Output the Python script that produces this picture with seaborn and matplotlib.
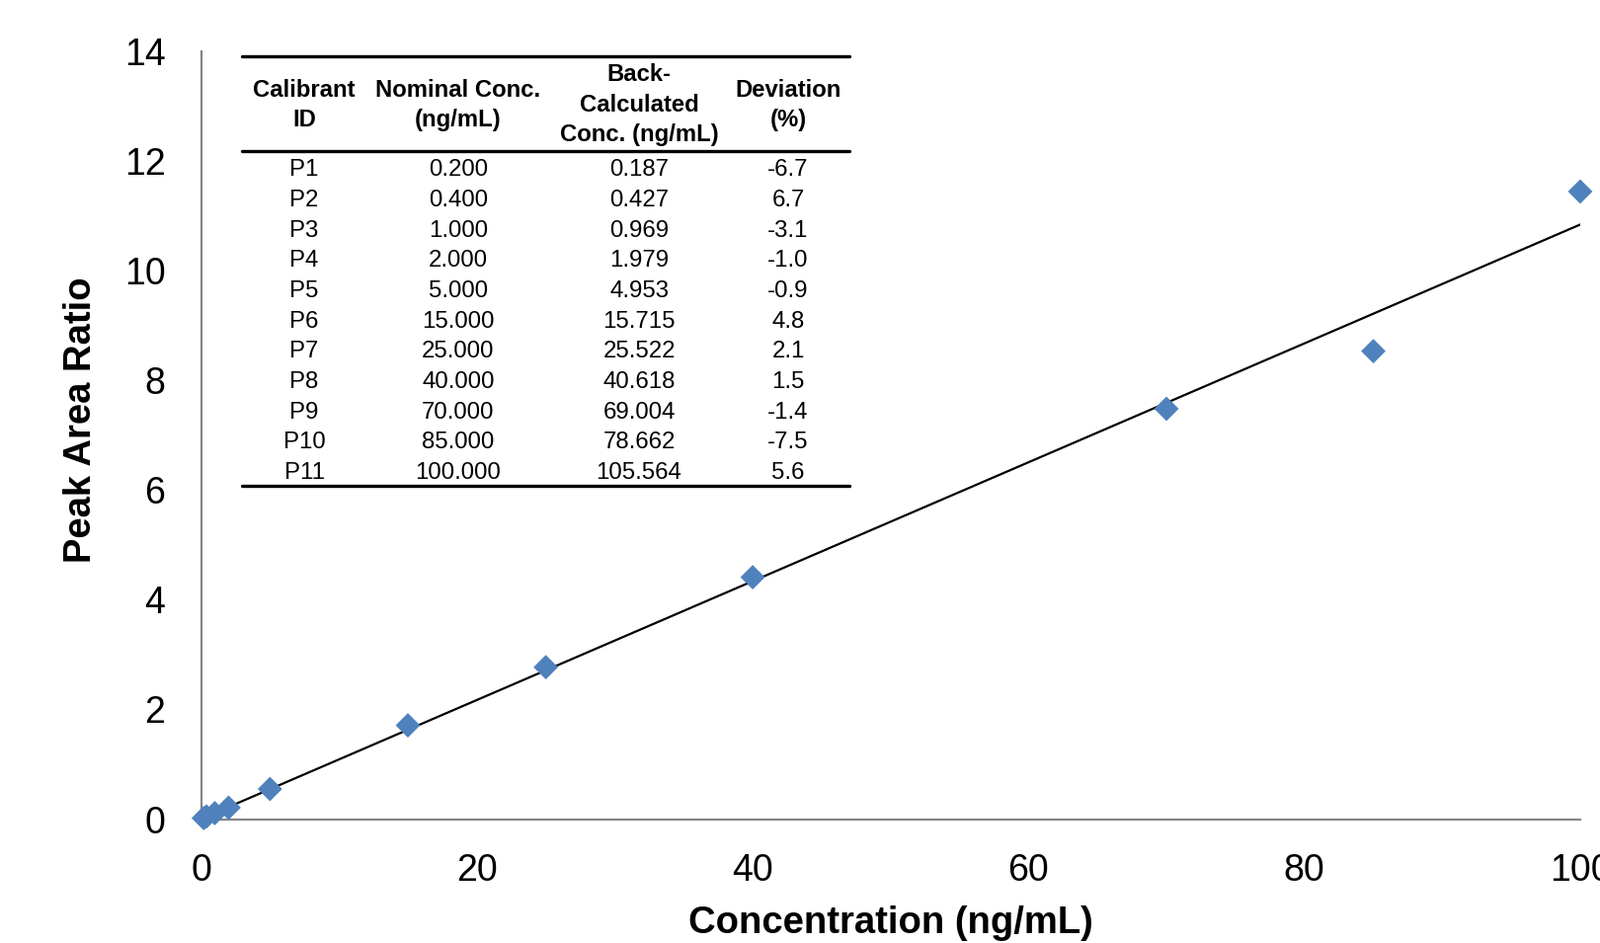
import numpy as np
import pandas as pd
import matplotlib
matplotlib.use("Agg")
import matplotlib.pyplot as plt
import seaborn as sns
from matplotlib.lines import Line2D

# ---- data ----
calibrant_ids = ["P1", "P2", "P3", "P4", "P5", "P6", "P7", "P8", "P9", "P10", "P11"]
nominal_conc = [0.2, 0.4, 1.0, 2.0, 5.0, 15.0, 25.0, 40.0, 70.0, 85.0, 100.0]
peak_area_ratio = [0.02, 0.05, 0.11, 0.21, 0.55, 1.71, 2.77, 4.41, 7.48, 8.53, 11.44]
nominal_labels = ["0.200", "0.400", "1.000", "2.000", "5.000", "15.000", "25.000",
                  "40.000", "70.000", "85.000", "100.000"]
back_calc_labels = ["0.187", "0.427", "0.969", "1.979", "4.953", "15.715", "25.522",
                    "40.618", "69.004", "78.662", "105.564"]
deviation_labels = ["-6.7", "6.7", "-3.1", "-1.0", "-0.9", "4.8", "2.1", "1.5",
                    "-1.4", "-7.5", "5.6"]
header_lines = [["Calibrant", "ID"], ["Nominal Conc.", "(ng/mL)"],
                ["Back-", "Calculated", "Conc. (ng/mL)"], ["Deviation", "(%)"]]
x_ticks = [0, 20, 40, 60, 80, 100]
y_ticks = [0, 2, 4, 6, 8, 10, 12, 14]

df = pd.DataFrame({"conc": nominal_conc, "ratio": peak_area_ratio})

sns.set_theme(style="white")
plt.rcParams["font.family"] = ["Liberation Sans", "DejaVu Sans"]

W, H = 1620, 955
fig = plt.figure(figsize=(W / 100, H / 100), dpi=100)
ax = fig.add_axes([203.5 / W, 1 - 829.6 / H, (1600 - 203.5) / W, (829.6 - 51.7) / H])

sns.regplot(data=df, x="conc", y="ratio", ax=ax, scatter=False, ci=None,
            truncate=True, line_kws=dict(color="black", lw=1.6))
sns.scatterplot(data=df, x="conc", y="ratio", ax=ax, marker="D", s=160,
                color="#4F81BD", edgecolor="none", zorder=5, clip_on=False)

ax.set_xlim(0, 100)
ax.set_ylim(0, 14)
ax.set_xticks(x_ticks)
ax.set_yticks(y_ticks)
ax.tick_params(axis="both", length=0, labelsize=27, colors="black")
ax.tick_params(axis="y", pad=26)
ax.tick_params(axis="x", pad=25)
for s in ["top", "right"]:
    ax.spines[s].set_visible(False)
for s in ["left", "bottom"]:
    ax.spines[s].set_color("#868686")
    ax.spines[s].set_linewidth(1.6)
ax.grid(False)

ax.set_xlabel("Concentration (ng/mL)", fontsize=27.5, fontweight="bold", color="black")
ax.set_ylabel("Peak Area Ratio", fontsize=27.5, fontweight="bold", color="black")
ax.xaxis.set_label_coords(0.5, -0.112)
ax.yaxis.set_label_coords(-0.074, 0.52)

# ---- inset table (figure pixel coordinates converted) ----
def fx(px):
    return px / W

def fy(py):
    return 1 - py / H

col_x = [308, 464, 647, 798]
tx0, tx1 = 245, 860
for yy in [57, 153, 492]:
    fig.add_artist(Line2D([fx(tx0), fx(tx1)], [fy(yy), fy(yy)], color="black",
                          lw=2.4, transform=fig.transFigure))

line_gap = 30.5
for cx, lines in zip(col_x, header_lines):
    n = len(lines)
    center = 106.4
    start = center - (n - 1) * line_gap / 2
    for i, t in enumerate(lines):
        fig.text(fx(cx), fy(start + i * line_gap), t, ha="center", va="center",
                 fontsize=17.2, fontweight="bold", color="black")

row0, row_gap = 172.5, 30.65
columns = [calibrant_ids, nominal_labels, back_calc_labels, deviation_labels]
for cx, col in zip(col_x, columns):
    for i, t in enumerate(col):
        fig.text(fx(cx), fy(row0 + i * row_gap), t, ha="center", va="center",
                 fontsize=17.3, color="black")

fig.savefig("out.png", dpi=100)
